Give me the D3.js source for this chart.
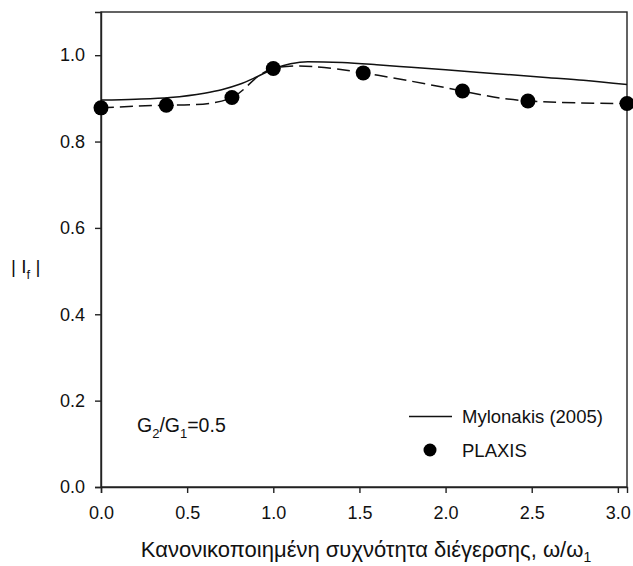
<!DOCTYPE html>
<html>
<head>
<meta charset="utf-8">
<script src="https://cdn.jsdelivr.net/npm/d3@7"></script>
<style>
  body { margin: 0; background: #fff; }
  text { font-family: "Liberation Sans", Arial, sans-serif; fill: #111; }
</style>
</head>
<body>
<div id="chart"></div>
<script>
    // Mylonakis (2005) analytical curve
    const mylonakisX = [0, 0.2, 0.4, 0.6, 0.7, 0.8, 0.9, 1.0, 1.1, 1.2, 1.4, 1.6, 1.8, 2.0, 2.2, 2.4, 2.6, 2.8, 3.053];
    const mylonakisY = [0.896, 0.898, 0.902, 0.912, 0.920, 0.932, 0.949, 0.968, 0.980, 0.985, 0.983, 0.978, 0.972, 0.966, 0.960, 0.954, 0.948, 0.942, 0.932];

    // PLAXIS results
    const plaxisX = [0, 0.379, 0.76, 1.0, 1.522, 2.098, 2.478, 3.053];
    const plaxisY = [0.878, 0.884, 0.902, 0.969, 0.959, 0.917, 0.894, 0.888];

    const xTicks = [0, 0.5, 1.0, 1.5, 2.0, 2.5, 3.0];
    const yTicks = [0, 0.2, 0.4, 0.6, 0.8, 1.0];

    const width = 633;
    const height = 566;
    const margin = { left: 101, right: 6, top: 12, bottom: 79 };

    const svg = d3.select("#chart").append("svg")
        .attr("width", width)
        .attr("height", height);

    const x = d3.scaleLinear()
        .domain([0, 3.053])
        .range([margin.left, width - margin.right]);

    const y = d3.scaleLinear()
        .domain([0, 1.1])
        .range([height - margin.bottom, margin.top]);

    // frame
    svg.append("rect")
        .attr("x", x(0))
        .attr("y", y(1.1))
        .attr("width", x(3.053) - x(0))
        .attr("height", y(0) - y(1.1))
        .attr("fill", "none")
        .attr("stroke", "#222")
        .attr("stroke-width", 1.4);

    const xAxis = svg.append("g")
        .attr("transform", `translate(0,${y(0)})`)
        .call(d3.axisBottom(x).tickValues(xTicks).tickFormat(d3.format(".1f")).tickSize(6).tickPadding(13));

    const yAxis = svg.append("g")
        .attr("transform", `translate(${x(0)},0)`)
        .call(d3.axisLeft(y).tickValues(yTicks).tickFormat(d3.format(".1f")).tickSize(6).tickPadding(10));

    for (let ax of [xAxis, yAxis]) {
        ax.select(".domain").attr("stroke", "#222").attr("stroke-width", 1.4);
        ax.selectAll(".tick line").attr("stroke", "#222").attr("stroke-width", 1.4);
        ax.selectAll(".tick text")
            .attr("font-family", "Liberation Sans, Arial, sans-serif")
            .attr("font-size", 18)
            .attr("fill", "#111");
    }

    const solid = mylonakisX.map((d, i) => [d, mylonakisY[i]]);
    const pts = plaxisX.map((d, i) => [d, plaxisY[i]]);

    svg.append("path")
        .datum(solid)
        .attr("fill", "none")
        .attr("stroke", "#111")
        .attr("stroke-width", 1.5)
        .attr("d", d3.line().x(d => x(d[0])).y(d => y(d[1])).curve(d3.curveMonotoneX));

    svg.append("path")
        .datum(pts)
        .attr("fill", "none")
        .attr("stroke", "#111")
        .attr("stroke-width", 1.5)
        .attr("stroke-dasharray", "13,6")
        .attr("d", d3.line().x(d => x(d[0])).y(d => y(d[1])).curve(d3.curveNatural));

    svg.append("g")
        .selectAll("circle")
        .data(pts)
        .join("circle")
        .attr("cx", d => x(d[0]))
        .attr("cy", d => y(d[1]))
        .attr("r", 7.5)
        .attr("fill", "#000");

    // y label |I_f|
    const yl = svg.append("text")
        .attr("x", 11)
        .attr("y", 273)
        .attr("font-size", 19);
    yl.append("tspan").text("|  I");
    yl.append("tspan").attr("font-size", 13).attr("dy", 6).text("f");
    yl.append("tspan").attr("dy", -6).text("  |");

    // x title
    const xt = svg.append("text")
        .attr("x", 366)
        .attr("y", 557)
        .attr("text-anchor", "middle")
        .attr("font-size", 22);
    xt.append("tspan").text("Κανονικοποιημένη συχνότητα διέγερσης, ω/ω");
    xt.append("tspan").attr("font-size", 14).attr("dy", 5).text("1");

    // G2/G1 annotation
    const g = svg.append("text")
        .attr("x", 137)
        .attr("y", 432)
        .attr("font-size", 19.5);
    g.append("tspan").text("G");
    g.append("tspan").attr("font-size", 13).attr("dy", 6).text("2");
    g.append("tspan").attr("dy", -6).text("/G");
    g.append("tspan").attr("font-size", 13).attr("dy", 6).text("1");
    g.append("tspan").attr("dy", -6).text("=0.5");

    // legend
    const legend = svg.append("g");
    legend.append("line")
        .attr("x1", 409).attr("x2", 452)
        .attr("y1", 416.5).attr("y2", 416.5)
        .attr("stroke", "#111").attr("stroke-width", 1.5);
    legend.append("text")
        .attr("x", 462).attr("y", 423)
        .attr("font-size", 18.5)
        .text("Mylonakis (2005)");
    legend.append("circle")
        .attr("cx", 430).attr("cy", 450)
        .attr("r", 6.5)
        .attr("fill", "#000");
    legend.append("text")
        .attr("x", 462).attr("y", 456.5)
        .attr("font-size", 18.5)
        .text("PLAXIS");
</script>
</body>
</html>
